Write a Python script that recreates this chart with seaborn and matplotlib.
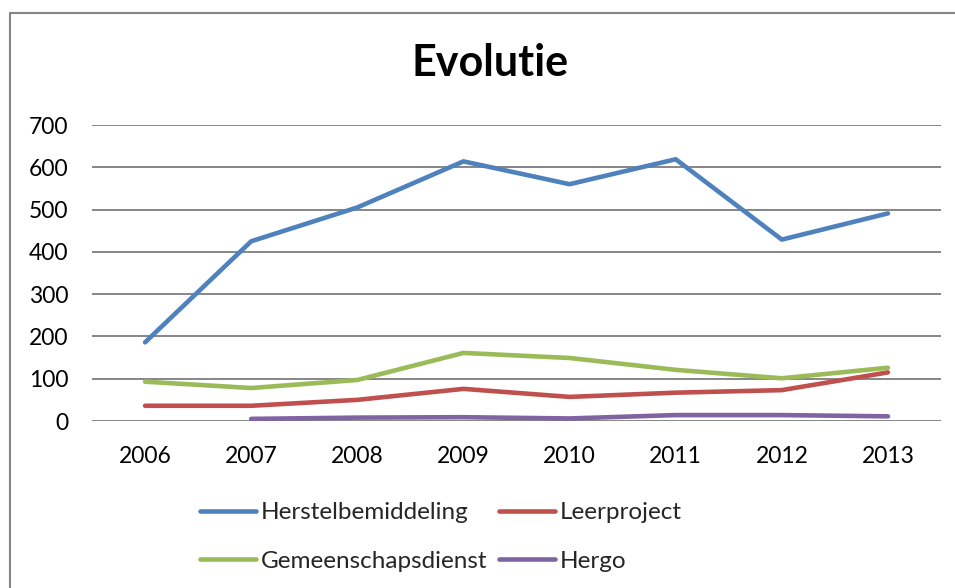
import numpy as np
import pandas as pd
import matplotlib
matplotlib.use("Agg")
import matplotlib.pyplot as plt
from matplotlib.lines import Line2D
import seaborn as sns

years = [2006, 2007, 2008, 2009, 2010, 2011, 2012, 2013]
series_names = ["Herstelbemiddeling", "Leerproject", "Gemeenschapsdienst", "Hergo"]
herstelbemiddeling = [186, 425, 505, 614, 560, 619, 429, 491]
leerproject = [36, 36, 50, 76, 57, 67, 73, 115]
gemeenschapsdienst = [93, 78, 97, 161, 149, 121, 101, 126]
hergo = [np.nan, 5, 8, 9, 6, 14, 14, 11]
colors = ["#4F81BD", "#C0504D", "#9BBB59", "#8064A2"]
yticks = [0, 100, 200, 300, 400, 500, 600, 700]

values = [herstelbemiddeling, leerproject, gemeenschapsdienst, hergo]
rows = []
for name, vals in zip(series_names, values):
    for i, (yr, v) in enumerate(zip(years, vals)):
        rows.append({"pos": i, "year": yr, "value": v, "series": name})
df = pd.DataFrame(rows)

sns.set_theme(style="white")
plt.rcParams["font.family"] = ["Lato", "DejaVu Sans"]
plt.rcParams["lines.solid_capstyle"] = "round"
plt.rcParams["lines.solid_joinstyle"] = "round"

fig = plt.figure(figsize=(9.55, 5.88), dpi=100)
ax = fig.add_axes([92 / 955, 1 - 421 / 588, (941 - 92) / 955, (421 - 125) / 588])

sns.lineplot(data=df, x="pos", y="value", hue="series", hue_order=series_names,
             palette=colors, linewidth=3.3, ax=ax, sort=False, legend=False)

ax.set_xlim(-0.5, len(years) - 0.5)
ax.set_ylim(0, 700)
ax.set_yticks(yticks)
ax.set_yticklabels([str(t) for t in yticks])
ax.set_xticks(range(len(years)))
ax.set_xticklabels([str(y) for y in years])
ax.set_xlabel("")
ax.set_ylabel("")
for s in ax.spines.values():
    s.set_visible(False)
ax.yaxis.grid(True, color="#868686", linewidth=1.4)
ax.xaxis.grid(False)
ax.set_axisbelow(True)
ax.tick_params(axis="y", length=0, pad=17, labelsize=16.5, colors="black")
ax.tick_params(axis="x", length=0, pad=18, labelsize=16.5, colors="black")

fig.text(490 / 955, 1 - 63 / 588, "Evolutie", ha="center", va="center",
         fontsize=31, fontweight="bold", color="black")

# legend filled row by row: reorder for column-major filling
order = [0, 2, 1, 3]
handles = [Line2D([0], [0], color=colors[i], linewidth=3.3) for i in order]
labels = [series_names[i] for i in order]
fig.legend(handles, labels, loc="center left", bbox_to_anchor=(200 / 955, 1 - 537 / 588),
           ncol=2, frameon=False, fontsize=17.5, handlelength=2.3, handletextpad=0.2,
           columnspacing=0.5, labelspacing=1.15, borderpad=0, borderaxespad=0)

# chart border (left and top visible)
fig.add_artist(Line2D([10 / 955, 10 / 955], [0, 1 - 13 / 588], transform=fig.transFigure,
                      color="#868686", linewidth=1.5))
fig.add_artist(Line2D([10 / 955, 1], [1 - 13 / 588, 1 - 13 / 588], transform=fig.transFigure,
                      color="#868686", linewidth=1.5))

fig.savefig("out.png", dpi=100)
